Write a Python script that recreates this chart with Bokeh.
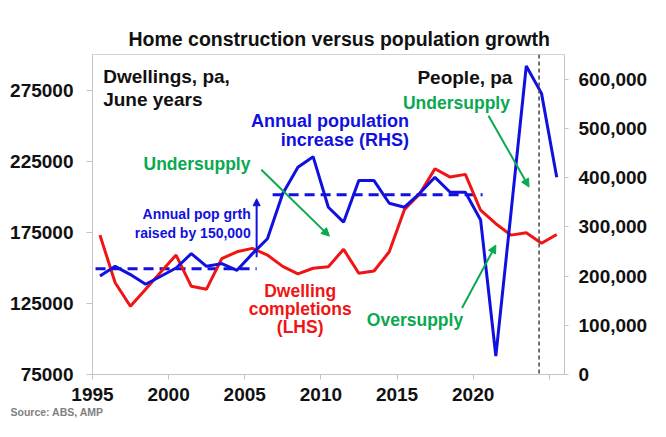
from bokeh.plotting import figure
from bokeh.models import (Range1d, LinearAxis, FixedTicker, NumeralTickFormatter,
                          Label, Arrow, NormalHead, Span, Title)
from bokeh.embed import file_html
from bokeh.resources import INLINE

# ---------------- data ----------------
years = list(range(1995, 2026))
dwelling_completions = [173000, 139500, 123000, 135000, 147000, 159000, 137000, 135000,
                        156500, 161300, 163700, 159000, 151000, 145700, 149700, 150800,
                        163000, 146200, 147800, 161300, 191000, 202000, 219700, 213800,
                        215700, 190500, 181000, 173000, 174600, 167300, 173400]
population_increase = [200000, 219700, 203000, 183300, 199500, 216300, 245400, 219700,
                       225200, 211600, 245000, 275800, 367000, 420800, 442500, 339800,
                       309400, 393900, 393900, 347900, 339800, 368100, 400500, 370200,
                       370200, 314000, 37500, 330000, 626700, 571000, 400600]
avg_levels = [215000, 365000]            # average annual pop growth, before / after
avg_spans = [(1995.2, 2005.78), (2006.83, 2020.62)]
left_ticks = [75000, 125000, 175000, 225000, 275000]
right_ticks = [0, 100000, 200000, 300000, 400000, 500000, 600000]
x_ticks = [1995, 2000, 2005, 2010, 2015, 2020, 2025]
forecast_start = 2024.33

x_pos = [y + 0.49 for y in years]  # June years

RED = "#f01414"
BLUE = "#1010e0"
GREEN = "#0aa850"
FONT = "Liberation Sans"

p = figure(width=650, height=421, output_backend="svg", toolbar_location=None,
           x_range=Range1d(1995, 2026), y_range=Range1d(75000, 300000),
           min_border_left=92, min_border_right=84, min_border_top=54,
           min_border_bottom=47, title=None)
p.extra_y_ranges = {"pop": Range1d(0, 650000)}
p.xgrid.visible = False
p.ygrid.visible = False
p.outline_line_color = "#d4d4d4"
p.outline_line_width = 1
p.background_fill_color = "white"
p.border_fill_color = "white"

p.add_layout(Title(text="Home construction versus population growth", align="left",
                   offset=36, standoff=9, text_font=FONT, text_font_style="bold",
                   text_font_size="19.5px", text_color="#111111"), "above")

def style_axis(ax, out_len):
    ax.axis_line_color = "#c4c4c4"
    ax.major_tick_line_color = "#c4c4c4"
    ax.major_tick_out = out_len
    ax.major_tick_in = 0
    ax.minor_tick_line_color = None
    ax.major_label_text_font = FONT
    ax.major_label_text_font_style = "bold"
    ax.major_label_text_font_size = "19px"
    ax.major_label_text_color = "#111111"

# left axis
yl = p.yaxis[0]
yl.ticker = FixedTicker(ticks=left_ticks)
yl.formatter = NumeralTickFormatter(format="0")
style_axis(yl, 6)
yl.major_label_standoff = 13

# bottom axis
xa = p.xaxis[0]
xa.ticker = FixedTicker(ticks=x_ticks)
xa.major_label_overrides = {2025: ""}
style_axis(xa, 5)
xa.major_label_standoff = 8

# right axis
yr = LinearAxis(y_range_name="pop", ticker=FixedTicker(ticks=right_ticks),
                formatter=NumeralTickFormatter(format="0,0"))
style_axis(yr, 4)
yr.major_label_standoff = 10
p.add_layout(yr, "right")

# source note
p.add_layout(Title(text="Source: ABS, AMP", align="left", offset=-82, standoff=0,
                   text_font=FONT, text_font_style="bold",
                   text_font_size="10.5px", text_color="#7f7f7f"), "below")

# forecast divider
p.add_layout(Span(location=forecast_start, dimension="height", line_color="#444444",
                  line_width=1.5, line_dash="4 3"))

# average pop growth dashed lines
for lvl, (x0, x1) in zip(avg_levels, avg_spans):
    p.line([x0, x1], [lvl, lvl], y_range_name="pop", line_color=BLUE,
           line_width=3, line_dash="10 6")

# series
p.line(x_pos, dwelling_completions, line_color=RED, line_width=3)
p.line(x_pos, population_increase, y_range_name="pop", line_color=BLUE, line_width=3)

# vertical "raised by" arrow (RHS scale)
p.add_layout(Arrow(x_start=2005.78, y_start=238000, x_end=2005.78, y_end=357000,
                   y_range_name="pop", line_color=BLUE, line_width=2,
                   end=NormalHead(size=7, fill_color=BLUE, line_color=BLUE)))

# green arrows
for xs, ys, xe, ye in [(2006.09, 219000, 2010.56, 172300),
                       (2021.01, 257000, 2023.67, 206800),
                       (2019.27, 121700, 2021.49, 166000)]:
    p.add_layout(Arrow(x_start=xs, y_start=ys, x_end=xe, y_end=ye,
                       line_color=GREEN, line_width=2,
                       end=NormalHead(size=8, fill_color=GREEN, line_color=GREEN)))

def lab(text, x, y, color="#111111", size="19px", align="left"):
    p.add_layout(Label(x=x, y=y, text=text, text_color=color, text_font_size=size,
                       text_font=FONT, text_font_style="bold",
                       text_align=align, text_baseline="alphabetic"))

lab("Dwellings, pa,", 1995.70, 284500)
lab("June years", 1995.70, 268700)
lab("People, pa", 2022.58, 284000, align="right")
lab("Annual population", 2015.78, 253500, color=BLUE, size="18px", align="right")
lab("increase (RHS)", 2015.78, 240200, color=BLUE, size="18px", align="right")
lab("Undersupply", 1998.35, 223200, color=GREEN, size="17.5px")
lab("Annual pop grth", 2005.39, 187700, color=BLUE, size="14px", align="right")
lab("raised by 150,000", 2005.39, 174200, color=BLUE, size="14px", align="right")
lab("Dwelling", 2008.64, 133600, color=RED, size="17.5px", align="center")
lab("completions", 2008.64, 121200, color=RED, size="17.5px", align="center")
lab("(LHS)", 2008.64, 108400, color=RED, size="17.5px", align="center")
lab("Undersupply", 2015.39, 265900, color=GREEN, size="17.5px")
lab("Oversupply", 2013.02, 113500, color=GREEN, size="17.5px")

open("out.html", "w").write(file_html(p, INLINE))
